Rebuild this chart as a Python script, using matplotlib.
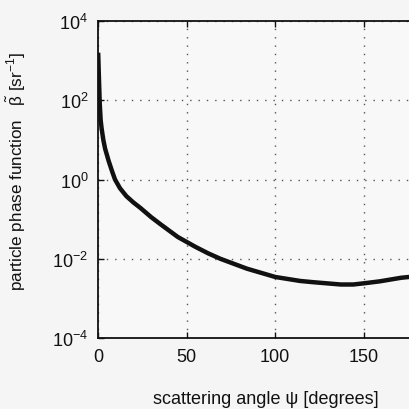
import numpy as np
import matplotlib.pyplot as plt

plt.rcParams['font.family'] = ['Liberation Sans', 'DejaVu Sans']
plt.rcParams['mathtext.fontset'] = 'custom'
plt.rcParams['mathtext.rm'] = 'Liberation Sans'
plt.rcParams['mathtext.it'] = 'Liberation Sans'
plt.rcParams['mathtext.bf'] = 'Liberation Sans:bold'

# particle phase function vs scattering angle
angle = [0.1, 0.5, 1.0, 1.5, 2.0, 3.0, 4.0, 6.0, 8.0, 9.6, 12.4, 16.0, 20.0,
         24.0, 30.0, 35.0, 45.0, 55.0, 62.0, 69.0, 84.0, 100.0, 114.0, 121.0,
         137.0, 144.0, 150.0, 159.0, 171.0, 180.0]
log_beta = [3.2, 2.6, 1.9, 1.5, 1.3, 1.0, 0.78, 0.47, 0.2, 0.0, -0.22, -0.42,
            -0.58, -0.72, -0.95, -1.12, -1.45, -1.7, -1.86, -2.0, -2.25,
            -2.46, -2.56, -2.59, -2.65, -2.65, -2.62, -2.57, -2.48, -2.44]
beta = 10.0 ** np.array(log_beta)

x_ticks = [0, 50, 100, 150]
y_ticks = [1e-4, 1e-2, 1e0, 1e2, 1e4]
y_ticklabels = [r'$\mathregular{10^{-4}}$', r'$\mathregular{10^{-2}}$',
                r'$\mathregular{10^{0}}$', r'$\mathregular{10^{2}}$',
                r'$\mathregular{10^{4}}$']

fig = plt.figure(figsize=(4.1, 4.1), dpi=100, facecolor='#f5f5f5')
ax = fig.add_axes([98 / 410, 71 / 410, 319 / 410, 317 / 410])
ax.set_facecolor('#f8f8f8')

ax.plot(angle, beta, color='#111111', lw=3.2, solid_joinstyle='round',
        solid_capstyle='butt', zorder=3)

ax.set_yscale('log')
ax.set_xlim(0, 180)
ax.set_ylim(1e-4, 1e4)
ax.set_xticks(x_ticks)
ax.set_yticks(y_ticks)
ax.set_yticklabels(y_ticklabels)
ax.minorticks_off()

ax.grid(True, color='#555555', linestyle=(0, (1, 5)), linewidth=1.0)
ax.tick_params(direction='in', length=4, width=1, top=True, right=True,
               labelsize=13, pad=7, colors='#111111')
for s in ax.spines.values():
    s.set_linewidth(1.3)
    s.set_color('#111111')

ax.set_xlabel('scattering angle ψ [degrees]', fontsize=13, color='#111111')
ax.xaxis.set_label_coords(0.525, -0.165)
ax.set_ylabel(r'particle phase function   $\tilde{\beta}$ [sr$^{-1}$]',
              fontsize=12.3, color='#111111')
ax.yaxis.set_label_coords(-0.22, 0.53)

fig.savefig('out.png', dpi=100, facecolor=fig.get_facecolor())
